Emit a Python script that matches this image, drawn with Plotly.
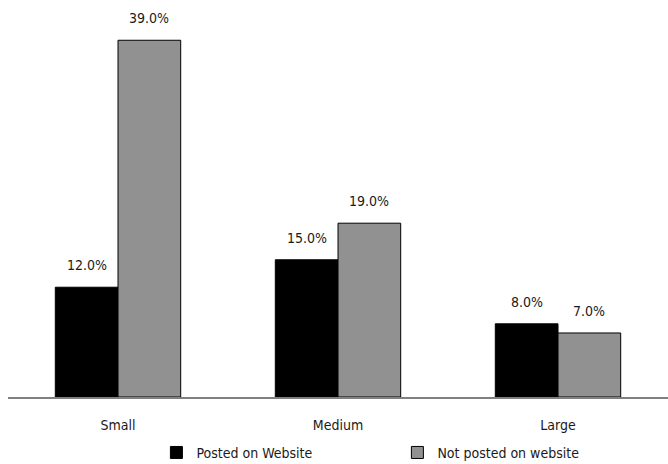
import plotly.graph_objects as go

categories = ["Small", "Medium", "Large"]
posted = [12.0, 15.0, 8.0]
not_posted = [39.0, 19.0, 7.0]

FONT = "DejaVu Sans Condensed, DejaVu Sans, sans-serif"
TXT = "#1a1a1a"
BARGAP = 0.43

fig = go.Figure()
fig.add_trace(go.Bar(
    x=categories, y=posted, name="Posted on Website",
    marker=dict(color="#000000", line=dict(color="#000000", width=1)),
))
fig.add_trace(go.Bar(
    x=categories, y=not_posted, name="Not posted on website",
    marker=dict(color="#919191", line=dict(color="#000000", width=1)),
))

# value labels sitting above each bar of the group
plot_w = 660
slot = plot_w / len(categories)
bar_w = slot * (1 - BARGAP) / 2
for series, shift in ((posted, -bar_w / 2), (not_posted, bar_w / 2)):
    for cat, v in zip(categories, series):
        fig.add_annotation(
            x=cat, y=v, text=f"{v:.1f}%", showarrow=False,
            xanchor="center", yanchor="bottom", xshift=shift, yshift=12,
            font=dict(size=14, color=TXT, family=FONT),
        )

fig.update_layout(
    width=668, height=464,
    margin=dict(l=8, r=0, t=0, b=67),
    paper_bgcolor="white", plot_bgcolor="white",
    barmode="group", bargap=BARGAP, bargroupgap=0,
    font=dict(family=FONT, size=14, color=TXT),
    showlegend=True,
    legend=dict(orientation="h", x=0.59, xanchor="center",
                yref="container", y=0.024, yanchor="middle",
                font=dict(size=14, family=FONT, color=TXT),
                itemwidth=30, entrywidth=196, entrywidthmode="pixels",
                traceorder="normal"),
    xaxis=dict(showline=True, linecolor="#808080", linewidth=2, ticks="",
               ticklabelstandoff=14,
               tickfont=dict(size=14, family=FONT, color=TXT),
               showgrid=False, zeroline=False),
    yaxis=dict(range=[0, 43.4], visible=False, showgrid=False, zeroline=False),
)

fig.write_html("out.html")
